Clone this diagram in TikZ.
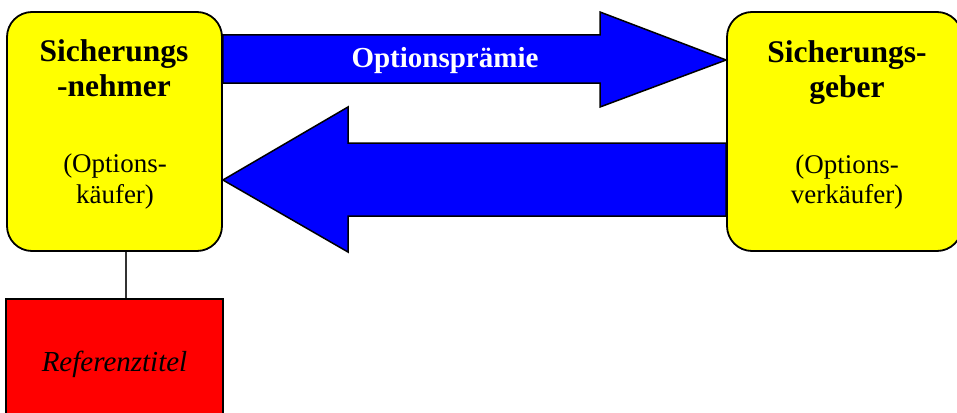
\documentclass[tikz,border=0pt]{standalone}
\usepackage{fontspec}
\setmainfont{Liberation Serif}
\definecolor{partyyellow}{RGB}{255,255,0}
\definecolor{flowblue}{RGB}{0,0,255}
\definecolor{assetred}{RGB}{255,0,0}
\begin{document}
\begin{tikzpicture}[x=1pt,y=-1pt,
  party/.style={draw=black, line width=1.8pt, fill=partyyellow, rounded corners=25pt,
                minimum height=239pt, inner sep=0pt},
  titleline/.style={anchor=base, inner sep=0pt, font=\fontsize{31.5}{38}\selectfont\bfseries},
  roleline/.style={anchor=base, inner sep=0pt, font=\fontsize{27}{31}\selectfont},
  flow/.style={draw=black, line width=1.5pt, fill=flowblue, line join=miter},
  refbox/.style={draw=black, line width=1.8pt, fill=assetred, minimum width=217pt,
                 minimum height=131pt, inner sep=0pt,
                 font=\fontsize{29}{34}\selectfont\itshape},
  link/.style={draw=black!80, line width=1.3pt}
]
\clip (0,0) rectangle (957,412);
\fill[white] (0,0) rectangle (957,412);

% the two parties
\node[party, minimum width=215pt] (nehmer) at (114.5,131.5) {};
\node[party, minimum width=235pt] (geber)  at (844.5,131.5) {};

% premium paid by the protection buyer
\path[flow] (nehmer.east |- 0,35) -- (600,35) -- (600,12) -- (geber.west |- 0,60)
  -- (600,107) -- (600,83) -- (nehmer.east |- 0,83) -- cycle;
\node[anchor=base, inner sep=0pt, text=white, font=\fontsize{29}{34}\selectfont\bfseries]
  (praemie) at (445,67) {Optionsprämie};

% payment back to the protection buyer
\path[flow] (geber.west |- 0,143) -- (348,143) -- (348,107) -- (nehmer.east |- 0,180)
  -- (348,252) -- (348,216) -- (geber.west |- 0,216) -- cycle;

% labels of the left party
\node[titleline] (n1) at (114,62) {Sicherungs};
\node[titleline] (n2) at (114,96) {-nehmer};
\node[roleline]  (n3) at (115,172) {(Options-};
\node[roleline]  (n4) at (115,203) {käufer)};

% labels of the right party
\node[titleline] (g1) at (847,63) {Sicherungs-};
\node[titleline] (g2) at (847,97) {geber};
\node[roleline]  (g3) at (847,173) {(Options-};
\node[roleline]  (g4) at (847,203) {verkäufer)};

% reference asset
\node[refbox] (ref) at (114.5,364.5) {Referenztitel};
\coordinate (lk) at (126,0);
\draw[link] (nehmer.south -| lk) -- (ref.north -| lk);
\end{tikzpicture}
\end{document}
